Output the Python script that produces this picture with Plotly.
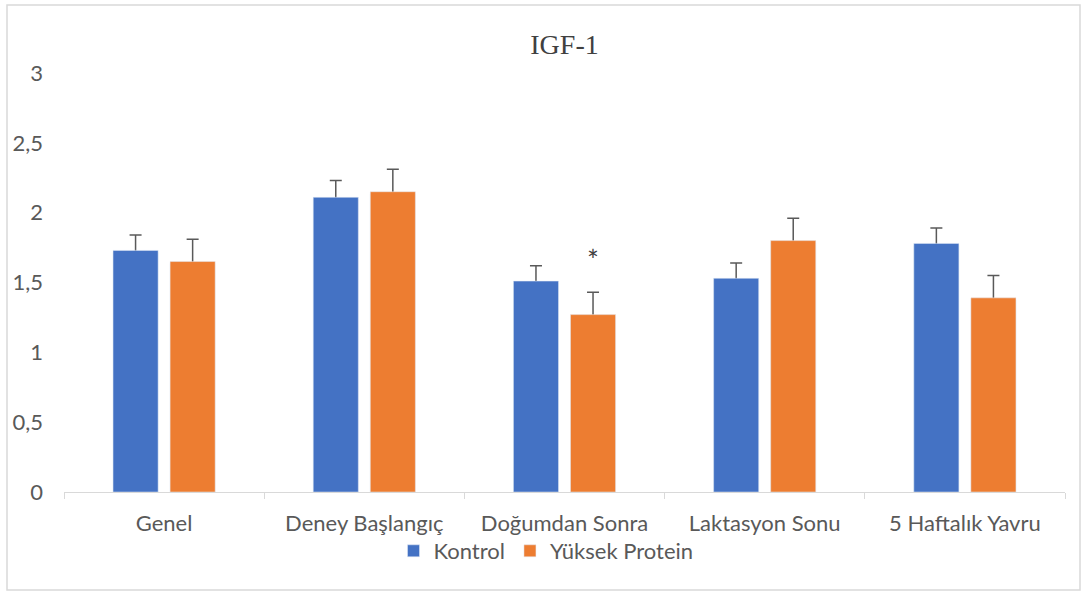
import plotly.graph_objects as go

categories = ["Genel", "Deney Başlangıç", "Doğumdan Sonra", "Laktasyon Sonu", "5 Haftalık Yavru"]
kontrol = [1.73, 2.11, 1.51, 1.53, 1.78]
kontrol_err = [0.11, 0.12, 0.11, 0.11, 0.11]
yuksek = [1.65, 2.15, 1.27, 1.80, 1.39]
yuksek_err = [0.16, 0.16, 0.16, 0.16, 0.16]
y_ticks = [0, 0.5, 1, 1.5, 2, 2.5, 3]

W, H = 1081, 592
ml, mr, mt, mb = 64, 16, 73, 100
pw = W - ml - mr
ph = H - mt - mb

FONT = "Lato, Carlito, sans-serif"
tick_font = dict(family=FONT, size=22, color="#595959")

# hide the lower cap of the one-sided error bars under the bar itself
HIDE = 0.015

def err_bars(vals, errs, group):
    return go.Bar(
        x=categories, y=[v - HIDE for v in vals], offsetgroup=group, showlegend=False,
        marker=dict(color="rgba(0,0,0,0)"), hoverinfo="skip",
        error_y=dict(type="data", symmetric=False, array=[e + HIDE for e in errs],
                     arrayminus=[0] * len(errs), color="#595959", thickness=1.5, width=6),
    )

fig = go.Figure()
fig.add_trace(err_bars(kontrol, kontrol_err, "k"))
fig.add_trace(err_bars(yuksek, yuksek_err, "y"))
fig.add_trace(go.Bar(name="Kontrol", x=categories, y=kontrol, marker_color="#4472C4", offsetgroup="k"))
fig.add_trace(go.Bar(name="Yüksek Protein", x=categories, y=yuksek, marker_color="#ED7D31", offsetgroup="y"))

fig.add_annotation(x=categories[2], y=yuksek[2] + yuksek_err[2] + 0.23, text="*",
                   showarrow=False, xshift=28, yanchor="middle",
                   font=dict(family=FONT, size=28, color="#404040"))

def px_x(p):
    return (p - ml) / pw

def px_y(p):
    return (H - mb - p) / ph

fig.add_shape(type="rect", xref="paper", yref="paper",
              x0=px_x(7), x1=px_x(1080), y0=px_y(590), y1=px_y(5),
              line=dict(color="#D9D9D9", width=1.5), fillcolor="rgba(0,0,0,0)", layer="below")

fig.update_layout(
    width=W, height=H,
    margin=dict(l=ml, r=mr, t=mt, b=mb),
    paper_bgcolor="white", plot_bgcolor="white",
    barmode="group", bargap=0.43, bargroupgap=0.21,
    separators=",.",
    title=dict(text="IGF-1", x=0.5, xref="paper", xanchor="center", y=1 - 44 / H, yanchor="middle",
               font=dict(family="Liberation Serif, Times New Roman, serif", size=28, color="#404040")),
    showlegend=True,
    legend=dict(orientation="h", x=px_x(546), xanchor="center", y=px_y(551), yanchor="middle",
                font=tick_font, itemwidth=30, tracegroupgap=0, bgcolor="rgba(0,0,0,0)"),
    xaxis=dict(showgrid=False, showline=True, linecolor="#D9D9D9", linewidth=1,
               ticks="outside", tickson="boundaries", ticklen=6, tickcolor="#D9D9D9",
               tickfont=tick_font, ticklabelstandoff=12),
    yaxis=dict(range=[0, 3], tickvals=y_ticks, showgrid=False, showline=False, zeroline=False,
               tickfont=tick_font, ticks="", ticklabelstandoff=20),
)

fig.write_html("out.html", config={"displayModeBar": False},
               post_script="document.body.style.margin='0';")
